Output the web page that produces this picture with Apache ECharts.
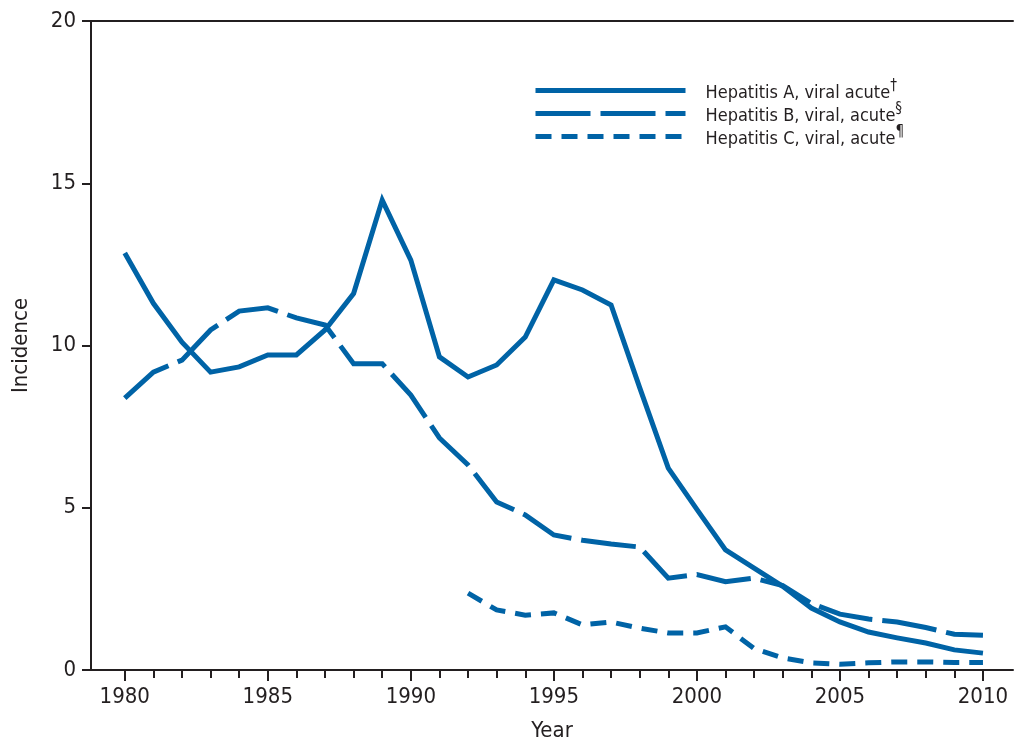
<!DOCTYPE html>
<html>
<head>
<meta charset="utf-8">
<script src="https://cdn.jsdelivr.net/npm/echarts@6/dist/echarts.min.js"></script>
<style>
html,body{margin:0;padding:0;background:#fff}
#c{width:1014px;height:740px}
</style>
</head>
<body>
<div id="c"></div>
<script>
const years = [1980,1981,1982,1983,1984,1985,1986,1987,1988,1989,1990,1991,1992,1993,1994,1995,1996,1997,1998,1999,2000,2001,2002,2003,2004,2005,2006,2007,2008,2009,2010];
const hepA = [12.85,11.3,10.1,9.18,9.34,9.71,9.71,10.48,11.6,14.48,12.63,9.65,9.03,9.4,10.26,12.02,11.71,11.25,8.7,6.22,4.95,3.7,3.14,2.58,1.91,1.48,1.17,0.99,0.83,0.62,0.52];
const hepB = [8.38,9.18,9.55,10.48,11.06,11.16,10.85,10.63,9.44,9.44,8.47,7.15,6.32,5.18,4.78,4.16,4.0,3.88,3.79,2.83,2.94,2.72,2.83,2.6,2.05,1.72,1.57,1.48,1.31,1.1,1.07];
const hepC = [null,null,null,null,null,null,null,null,null,null,null,null,2.37,1.85,1.69,1.76,1.39,1.48,1.29,1.14,1.14,1.33,0.66,0.37,0.22,0.18,0.22,0.25,0.25,0.23,0.23];
const seriesNames = ['Hepatitis A, viral acute','Hepatitis B, viral, acute','Hepatitis C, viral, acute'];
const seriesMarks = ['†','§','¶'];
const xTickLabels = [1980,1985,1990,1995,2000,2005,2010];
const yTickLabels = [0,5,10,15,20];

const FONT = "'DejaVu Sans Condensed','Liberation Sans',sans-serif";
const INK = '#231f20';
const BLUE = '#0063a6';

function pairs(vals){ return years.map((y,i)=>[y, vals[i]]); }

const chart = echarts.init(document.getElementById('c'));
const markOf = {};
seriesNames.forEach((n,i)=>{ markOf[n] = seriesMarks[i]; });

const dashes = ['solid',[55,10],[16,10]];
const allVals = [hepA,hepB,hepC];

chart.setOption({
  animation:false,
  backgroundColor:'#fff',
  textStyle:{fontFamily:FONT,color:INK},
  grid:{left:91,right:1,top:21,bottom:70,containLabel:false,outerBoundsMode:'none'},
  legend:{
    orient:'vertical',
    left:533, top:79, padding:0,
    itemWidth:150, itemHeight:14, itemGap:0,
    data:seriesNames,
    itemStyle:{opacity:0,borderWidth:0},
    lineStyle:{width:5,cap:'butt'},
    formatter:(n)=>'{t|'+n+'}{s|'+markOf[n]+'}',
    textStyle:{
      fontFamily:FONT,color:INK,padding:[0,0,0,15],
      rich:{
        t:{fontFamily:FONT,fontSize:18,color:INK,lineHeight:23,verticalAlign:'bottom'},
        s:{fontFamily:FONT,fontSize:15,color:INK,lineHeight:14,verticalAlign:'top'}
      }
    }
  },
  xAxis:[
    {
      type:'value', min:1978.82, max:2011.05, position:'bottom',
      axisLine:{show:true,onZero:false,lineStyle:{color:INK,width:2}},
      axisTick:{show:true,customValues:xTickLabels,length:11,lineStyle:{color:INK,width:2}},
      axisLabel:{show:true,customValues:xTickLabels,fontSize:22,margin:16,color:INK,fontFamily:FONT,formatter:(v)=>String(v)},
      splitLine:{show:false},
      name:'Year', nameLocation:'middle', nameGap:50,
      nameTextStyle:{fontSize:22,color:INK,fontFamily:FONT}
    },
    {
      type:'value', min:1978.82, max:2011.05, position:'bottom',
      axisLine:{show:false},
      axisTick:{show:true,customValues:years,length:8,lineStyle:{color:INK,width:2}},
      axisLabel:{show:false},
      splitLine:{show:false}
    },
    {
      type:'value', min:1978.82, max:2011.05, position:'top',
      axisLine:{show:true,onZero:false,lineStyle:{color:INK,width:2}},
      axisTick:{show:false}, axisLabel:{show:false}, splitLine:{show:false}
    }
  ],
  yAxis:{
    type:'value', min:0, max:20, interval:5,
    axisLine:{show:true,onZero:false,lineStyle:{color:INK,width:2}},
    axisTick:{show:true,length:9,lineStyle:{color:INK,width:2}},
    axisLabel:{fontSize:22,margin:15,color:INK,fontFamily:FONT,
      formatter:(v)=> yTickLabels.indexOf(v)>=0 ? String(v) : ''},
    splitLine:{show:false},
    name:'Incidence', nameLocation:'middle', nameGap:59, nameRotate:90,
    nameTextStyle:{fontSize:22,color:INK,fontFamily:FONT}
  },
  series: seriesNames.map((n,i)=>({
    name:n, type:'line', xAxisIndex:0, yAxisIndex:0,
    data:pairs(allVals[i]),
    symbol:'none', connectNulls:false,
    lineStyle:{color:BLUE,width:5,type:dashes[i],cap:'butt',join:'miter'},
    itemStyle:{color:BLUE}
  }))
});
</script>
</body>
</html>
